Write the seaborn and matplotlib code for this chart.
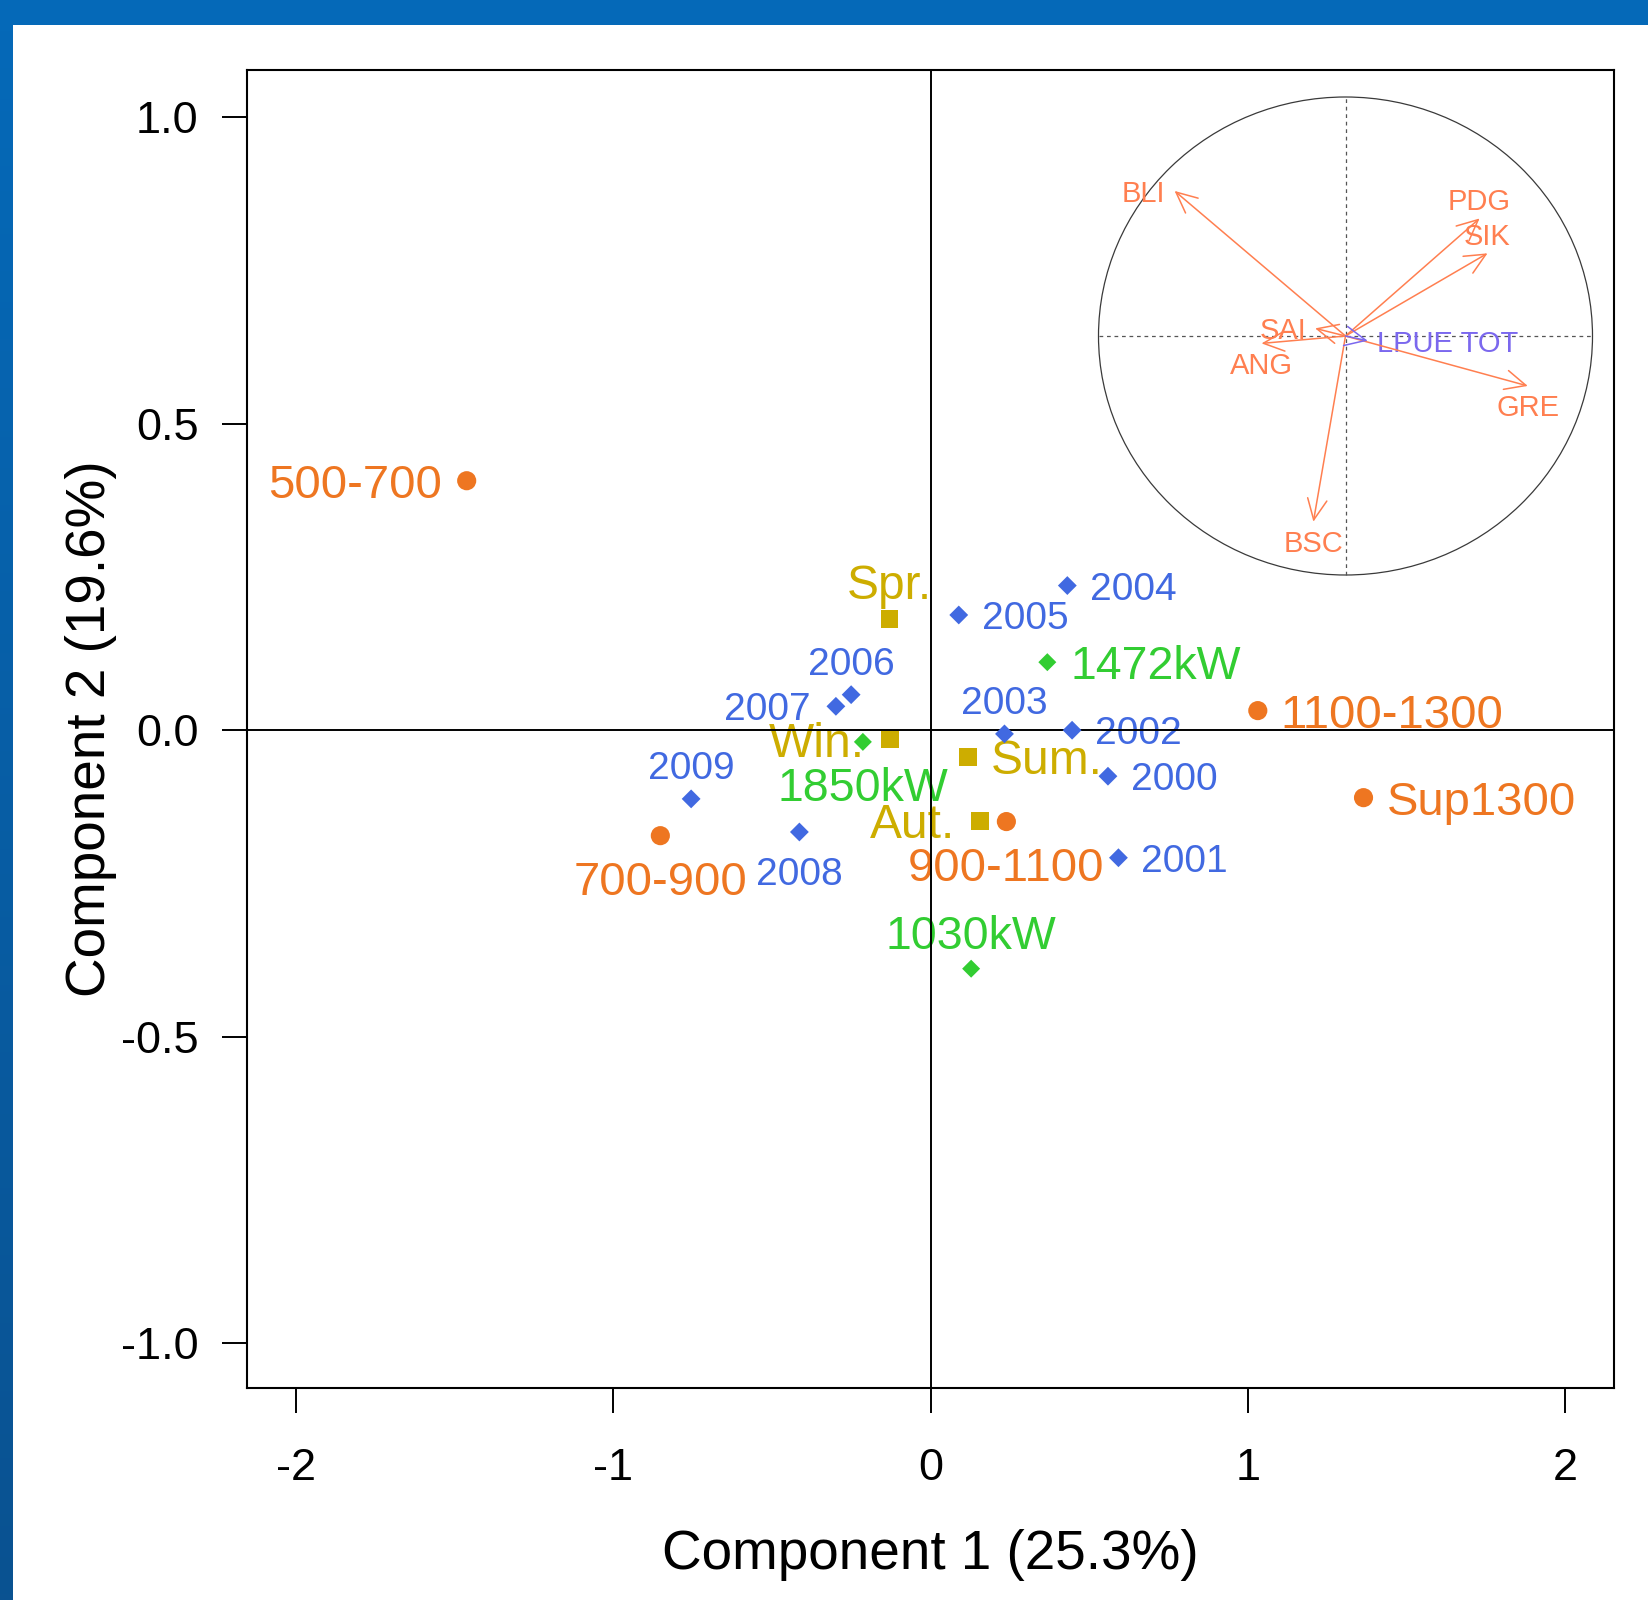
import numpy as np
import pandas as pd
import matplotlib
matplotlib.use("Agg")
import matplotlib.pyplot as plt
from matplotlib.patches import Rectangle, Ellipse
import seaborn as sns

# ---------------------------------------------------------------------------
# Individuals projected on the first factorial plane
# ---------------------------------------------------------------------------
depth_labels = ["500-700", "700-900", "900-1100", "1100-1300", "Sup1300"]
depth_x = [-1.461, -0.851, 0.239, 1.031, 1.364]
depth_y = [0.407, -0.172, -0.149, 0.032, -0.110]

year_labels = ["2000", "2001", "2002", "2003", "2004",
               "2005", "2006", "2007", "2008", "2009"]
year_x = [0.559, 0.592, 0.446, 0.233, 0.431, 0.089, -0.250, -0.298, -0.413, -0.754]
year_y = [-0.075, -0.208, 0.000, -0.006, 0.236, 0.188, 0.058, 0.039, -0.166, -0.112]

power_labels = ["1030kW", "1472kW", "1850kW"]
power_x = [0.128, 0.368, -0.213]
power_y = [-0.389, 0.111, -0.019]

season_labels = ["Win.", "Spr.", "Sum.", "Aut."]
season_x = [-0.127, -0.129, 0.119, 0.155]
season_y = [-0.015, 0.181, -0.043, -0.148]

# Variables on the correlation circle
var_labels = ["BLI", "PDG", "SIK", "GRE", "BSC", "SAI", "ANG", "LPUE TOT"]
var_x = [-0.692, 0.543, 0.575, 0.738, -0.130, -0.123, -0.340, 0.090]
var_y = [0.607, 0.492, 0.346, -0.209, -0.777, 0.032, -0.031, -0.020]

# Axis annotation
x_title = "Component 1 (25.3%)"
y_title = "Component 2 (19.6%)"
x_ticks = [-2, -1, 0, 1, 2]
y_ticks = [-1.0, -0.5, 0.0, 0.5, 1.0]

# ---------------------------------------------------------------------------
# Label placement around each point
# ---------------------------------------------------------------------------
depth_pos = ["left", "below", "below", "right", "right"]
year_pos = ["right", "right", "right", "above", "right",
            "right", "above", "left", "below", "above"]
power_pos = ["above", "right", "below"]
season_pos = ["left", "above", "right", "left"]
var_pos = ["left", "above", "above", "below", "below", "left", "below", "right"]

C_DEPTH = "#EE7621"
C_YEAR = "#4169E1"
C_POWER = "#32CD32"
C_SEASON = "#CDAD00"
C_VAR = "#FF7F50"
C_LPUE = "#7B68EE"

FONT = ["Liberation Sans", "DejaVu Sans"]
plt.rcParams["font.family"] = FONT
plt.rcParams["axes.unicode_minus"] = False

W, H = 1648, 1600
fig = plt.figure(figsize=(W / 100, H / 100), dpi=100)
fig.patch.set_facecolor("white")

# Page border: a flat band on top, a shaded band on the left
fig.add_artist(Rectangle((0, 1 - 25 / H), 1, 25 / H, transform=fig.transFigure,
                         facecolor="#0569B8", edgecolor="none", zorder=0))
band = fig.add_axes([0, 0, 13 / W, 1 - 25 / H], zorder=0)
grad = np.linspace(0, 1, 256)[:, None]
cmap = matplotlib.colors.LinearSegmentedColormap.from_list(
    "band", ["#0569B8", "#0A5291"])
band.imshow(grad, aspect="auto", cmap=cmap, extent=(0, 1, 0, 1), origin="upper")
band.set_axis_off()

# Main axes
ax = fig.add_axes([247 / W, 1 - 1388 / H, (1614 - 247) / W, (1388 - 70) / H])
ax.set_xlim(-2.153, 2.153)
ax.set_ylim(-1.073, 1.077)


def place(ax, x, y, text, pos, color, size, offs):
    dx_r, dx_l, dy_a, dy_b = offs
    if pos == "right":
        xy, ha, va = (dx_r, 0), "left", "center_baseline"
    elif pos == "left":
        xy, ha, va = (-dx_l, 0), "right", "center_baseline"
    elif pos == "above":
        xy, ha, va = (0, dy_a), "center", "baseline"
    else:
        xy, ha, va = (0, -dy_b), "center", "top"
    ax.annotate(text, (x, y), xytext=xy, textcoords="offset points",
                ha=ha, va=va, color=color, fontsize=size, zorder=2,
                annotation_clip=False)


main_offs = (16.5, 18.0, 14.5, 18.0)

groups = [
    (depth_labels, depth_x, depth_y, depth_pos, C_DEPTH, "o", 190, 34),
    (year_labels, year_x, year_y, year_pos, C_YEAR, "D", 92, 28),
    (power_labels, power_x, power_y, power_pos, C_POWER, "D", 84, 33.5),
    (season_labels, season_x, season_y, season_pos, C_SEASON, "s", 165, 34.5),
]

for labels, xs, ys, pos, col, mk, size, fsz in groups:
    df = pd.DataFrame({"label": labels, "x": xs, "y": ys})
    sns.scatterplot(data=df, x="x", y="y", marker=mk, color=col, s=size,
                    linewidth=0, edgecolor="none", ax=ax, zorder=3, legend=False)
    for lab, xv, yv, p in zip(labels, xs, ys, pos):
        place(ax, xv, yv, lab, p, col, fsz, main_offs)

ax.axhline(0, color="black", lw=1.4, zorder=2.5)
ax.axvline(0, color="black", lw=1.4, zorder=2.5)

ax.set_xticks(x_ticks)
ax.set_xticklabels([f"{v:d}" for v in x_ticks])
ax.set_yticks(y_ticks)
ax.set_yticklabels([f"{v:.1f}" for v in y_ticks])
ax.tick_params(axis="both", direction="out", length=18, width=1.4,
               labelsize=32.5, colors="black")
ax.tick_params(axis="x", pad=25)
ax.tick_params(axis="y", pad=17)
for sp in ax.spines.values():
    sp.set_linewidth(1.5)
    sp.set_color("black")
ax.set_xlabel("")
ax.set_ylabel("")

fig.text(930.5 / W, 1 - 1569 / H, x_title, ha="center", va="baseline",
         fontsize=39.5, color="black")
fig.text(105 / W, 1 - 729 / H, y_title, ha="center", va="baseline",
         rotation=90, rotation_mode="anchor", fontsize=39.5, color="black")

# ---------------------------------------------------------------------------
# Correlation circle inset
# ---------------------------------------------------------------------------
cx, cy, rx, ry = 1345.5, 336.0, 247.0, 239.0
ext = 1.1
ins = fig.add_axes([(cx - ext * rx) / W, 1 - (cy + ext * ry) / H,
                    2 * ext * rx / W, 2 * ext * ry / H], zorder=5)
ins.set_xlim(-ext, ext)
ins.set_ylim(-ext, ext)
ins.set_axis_off()
ins.patch.set_visible(False)

ins.add_patch(Ellipse((0, 0), 2, 2, fill=False, edgecolor="#3a3a3a", lw=0.9))
ins.plot([-1, 1], [0, 0], color="#555555", lw=0.9, ls=(0, (3, 3)))
ins.plot([0, 0], [-1, 1], color="#555555", lw=0.9, ls=(0, (3, 3)))

var_offs = (7.0, 6.5, 6.0, 6.0)
for lab, xv, yv, p in zip(var_labels, var_x, var_y, var_pos):
    col = C_LPUE if lab == "LPUE TOT" else C_VAR
    ins.annotate("", xy=(xv, yv), xytext=(0, 0),
                 arrowprops=dict(arrowstyle="->,head_length=1.5,head_width=0.7",
                                 color=col, lw=1.1, shrinkA=0, shrinkB=0,
                                 mutation_scale=10))
    place(ins, xv, yv, lab, p, col, 21, var_offs)

fig.savefig("out.png", dpi=100, facecolor="white")
